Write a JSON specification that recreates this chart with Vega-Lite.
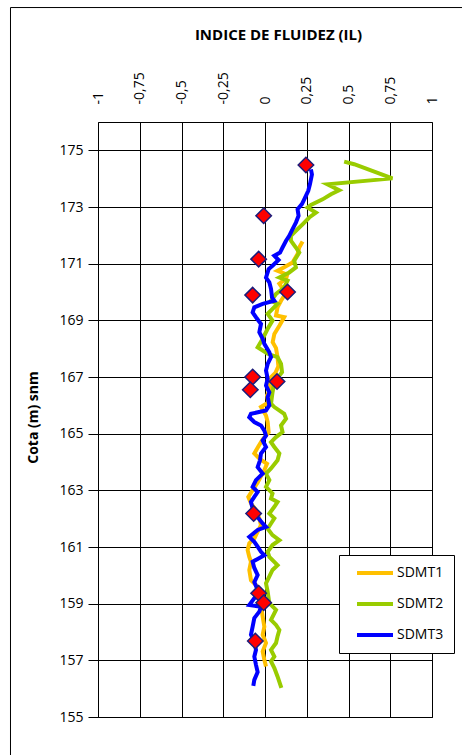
{
  "$schema": "https://vega.github.io/schema/vega-lite/v6.json",
  "width": 334,
  "height": 595,
  "autosize": {"type": "none"},
  "padding": {"left": 98, "top": 122, "right": 30, "bottom": 38},
  "background": "white",
  "config": {"view": {"stroke": "black", "strokeWidth": 1}, "font": "Open Sans"},
  "datasets": {
    "perfiles": [
      {"serie": "SDMT1", "cota": 171.78, "il": 0.225},
      {"serie": "SDMT1", "cota": 171.57, "il": 0.205},
      {"serie": "SDMT1", "cota": 171.34, "il": 0.195},
      {"serie": "SDMT1", "cota": 171.04, "il": 0.165},
      {"serie": "SDMT1", "cota": 170.87, "il": 0.115},
      {"serie": "SDMT1", "cota": 170.75, "il": 0.075},
      {"serie": "SDMT1", "cota": 170.61, "il": 0.133},
      {"serie": "SDMT1", "cota": 170.47, "il": 0.126},
      {"serie": "SDMT1", "cota": 170.29, "il": 0.086},
      {"serie": "SDMT1", "cota": 170.08, "il": 0.11},
      {"serie": "SDMT1", "cota": 169.87, "il": 0.115},
      {"serie": "SDMT1", "cota": 169.69, "il": 0.096},
      {"serie": "SDMT1", "cota": 169.46, "il": 0.075},
      {"serie": "SDMT1", "cota": 169.17, "il": 0.066},
      {"serie": "SDMT1", "cota": 169.11, "il": 0.115},
      {"serie": "SDMT1", "cota": 168.81, "il": 0.086},
      {"serie": "SDMT1", "cota": 168.52, "il": 0.056},
      {"serie": "SDMT1", "cota": 168.23, "il": 0.046},
      {"serie": "SDMT1", "cota": 168.02, "il": 0.066},
      {"serie": "SDMT1", "cota": 167.70, "il": 0.075},
      {"serie": "SDMT1", "cota": 167.38, "il": 0.08},
      {"serie": "SDMT1", "cota": 167.14, "il": 0.062},
      {"serie": "SDMT1", "cota": 166.88, "il": 0.016},
      {"serie": "SDMT1", "cota": 166.63, "il": 0.038},
      {"serie": "SDMT1", "cota": 166.35, "il": 0.012},
      {"serie": "SDMT1", "cota": 166.10, "il": 0.02},
      {"serie": "SDMT1", "cota": 165.94, "il": -0.024},
      {"serie": "SDMT1", "cota": 165.64, "il": 0.006},
      {"serie": "SDMT1", "cota": 165.41, "il": 0.016},
      {"serie": "SDMT1", "cota": 165.05, "il": 0.022},
      {"serie": "SDMT1", "cota": 164.80, "il": -0.014},
      {"serie": "SDMT1", "cota": 164.55, "il": -0.04},
      {"serie": "SDMT1", "cota": 164.30, "il": -0.064},
      {"serie": "SDMT1", "cota": 164.10, "il": -0.03},
      {"serie": "SDMT1", "cota": 163.94, "il": 0.012},
      {"serie": "SDMT1", "cota": 163.71, "il": -0.004},
      {"serie": "SDMT1", "cota": 163.50, "il": -0.024},
      {"serie": "SDMT1", "cota": 163.28, "il": -0.044},
      {"serie": "SDMT1", "cota": 163.04, "il": -0.07},
      {"serie": "SDMT1", "cota": 162.77, "il": -0.1},
      {"serie": "SDMT1", "cota": 162.54, "il": -0.084},
      {"serie": "SDMT1", "cota": 162.30, "il": -0.054},
      {"serie": "SDMT1", "cota": 162.01, "il": -0.034},
      {"serie": "SDMT1", "cota": 161.77, "il": -0.024},
      {"serie": "SDMT1", "cota": 161.54, "il": -0.044},
      {"serie": "SDMT1", "cota": 161.30, "il": -0.064},
      {"serie": "SDMT1", "cota": 161.13, "il": -0.094},
      {"serie": "SDMT1", "cota": 160.89, "il": -0.104},
      {"serie": "SDMT1", "cota": 160.65, "il": -0.094},
      {"serie": "SDMT1", "cota": 160.48, "il": -0.084},
      {"serie": "SDMT1", "cota": 160.19, "il": -0.094},
      {"serie": "SDMT1", "cota": 159.83, "il": -0.084},
      {"serie": "SDMT1", "cota": 159.66, "il": -0.054},
      {"serie": "SDMT1", "cota": 159.41, "il": -0.024},
      {"serie": "SDMT1", "cota": 159.13, "il": -0.016},
      {"serie": "SDMT1", "cota": 158.85, "il": -0.022},
      {"serie": "SDMT1", "cota": 158.54, "il": -0.014},
      {"serie": "SDMT1", "cota": 158.19, "il": -0.004},
      {"serie": "SDMT1", "cota": 157.90, "il": -0.014},
      {"serie": "SDMT1", "cota": 157.61, "il": 0.006},
      {"serie": "SDMT1", "cota": 157.31, "il": -0.014},
      {"serie": "SDMT1", "cota": 157.02, "il": -0.004},
      {"serie": "SDMT1", "cota": 156.78, "il": 0.006},

      {"serie": "SDMT2", "cota": 174.60, "il": 0.474},
      {"serie": "SDMT2", "cota": 174.51, "il": 0.534},
      {"serie": "SDMT2", "cota": 174.01, "il": 0.763},
      {"serie": "SDMT2", "cota": 173.80, "il": 0.374},
      {"serie": "SDMT2", "cota": 173.59, "il": 0.444},
      {"serie": "SDMT2", "cota": 173.45, "il": 0.395},
      {"serie": "SDMT2", "cota": 173.27, "il": 0.345},
      {"serie": "SDMT2", "cota": 173.07, "il": 0.275},
      {"serie": "SDMT2", "cota": 172.98, "il": 0.255},
      {"serie": "SDMT2", "cota": 172.80, "il": 0.305},
      {"serie": "SDMT2", "cota": 172.63, "il": 0.265},
      {"serie": "SDMT2", "cota": 172.39, "il": 0.225},
      {"serie": "SDMT2", "cota": 172.16, "il": 0.185},
      {"serie": "SDMT2", "cota": 171.98, "il": 0.155},
      {"serie": "SDMT2", "cota": 171.81, "il": 0.155},
      {"serie": "SDMT2", "cota": 171.57, "il": 0.185},
      {"serie": "SDMT2", "cota": 171.39, "il": 0.205},
      {"serie": "SDMT2", "cota": 171.10, "il": 0.175},
      {"serie": "SDMT2", "cota": 170.87, "il": 0.185},
      {"serie": "SDMT2", "cota": 170.69, "il": 0.145},
      {"serie": "SDMT2", "cota": 170.51, "il": 0.086},
      {"serie": "SDMT2", "cota": 170.40, "il": 0.135},
      {"serie": "SDMT2", "cota": 170.16, "il": 0.115},
      {"serie": "SDMT2", "cota": 169.93, "il": 0.066},
      {"serie": "SDMT2", "cota": 169.69, "il": 0.036},
      {"serie": "SDMT2", "cota": 169.58, "il": 0.075},
      {"serie": "SDMT2", "cota": 169.23, "il": 0.016},
      {"serie": "SDMT2", "cota": 168.99, "il": 0.045},
      {"serie": "SDMT2", "cota": 168.70, "il": 0.016},
      {"serie": "SDMT2", "cota": 168.35, "il": -0.014},
      {"serie": "SDMT2", "cota": 168.05, "il": -0.044},
      {"serie": "SDMT2", "cota": 167.82, "il": 0.016},
      {"serie": "SDMT2", "cota": 167.70, "il": 0.075},
      {"serie": "SDMT2", "cota": 167.46, "il": 0.096},
      {"serie": "SDMT2", "cota": 167.17, "il": 0.102},
      {"serie": "SDMT2", "cota": 166.82, "il": 0.056},
      {"serie": "SDMT2", "cota": 166.46, "il": 0.045},
      {"serie": "SDMT2", "cota": 166.06, "il": 0.036},
      {"serie": "SDMT2", "cota": 165.94, "il": 0.056},
      {"serie": "SDMT2", "cota": 165.70, "il": 0.115},
      {"serie": "SDMT2", "cota": 165.53, "il": 0.126},
      {"serie": "SDMT2", "cota": 165.29, "il": 0.096},
      {"serie": "SDMT2", "cota": 165.06, "il": 0.105},
      {"serie": "SDMT2", "cota": 164.88, "il": 0.066},
      {"serie": "SDMT2", "cota": 164.70, "il": 0.036},
      {"serie": "SDMT2", "cota": 164.53, "il": 0.056},
      {"serie": "SDMT2", "cota": 164.30, "il": 0.086},
      {"serie": "SDMT2", "cota": 164.06, "il": 0.075},
      {"serie": "SDMT2", "cota": 163.77, "il": 0.036},
      {"serie": "SDMT2", "cota": 163.59, "il": 0.006},
      {"serie": "SDMT2", "cota": 163.36, "il": 0.026},
      {"serie": "SDMT2", "cota": 163.12, "il": 0.006},
      {"serie": "SDMT2", "cota": 162.89, "il": 0.045},
      {"serie": "SDMT2", "cota": 162.71, "il": 0.036},
      {"serie": "SDMT2", "cota": 162.59, "il": 0.075},
      {"serie": "SDMT2", "cota": 162.42, "il": 0.056},
      {"serie": "SDMT2", "cota": 162.18, "il": 0.026},
      {"serie": "SDMT2", "cota": 162.01, "il": 0.056},
      {"serie": "SDMT2", "cota": 161.83, "il": 0.036},
      {"serie": "SDMT2", "cota": 161.65, "il": 0.016},
      {"serie": "SDMT2", "cota": 161.42, "il": 0.045},
      {"serie": "SDMT2", "cota": 161.24, "il": 0.086},
      {"serie": "SDMT2", "cota": 161.07, "il": 0.045},
      {"serie": "SDMT2", "cota": 160.83, "il": 0.016},
      {"serie": "SDMT2", "cota": 160.65, "il": 0.026},
      {"serie": "SDMT2", "cota": 160.36, "il": 0.075},
      {"serie": "SDMT2", "cota": 160.19, "il": 0.045},
      {"serie": "SDMT2", "cota": 159.72, "il": 0.006},
      {"serie": "SDMT2", "cota": 159.42, "il": 0.016},
      {"serie": "SDMT2", "cota": 159.01, "il": 0.026},
      {"serie": "SDMT2", "cota": 158.78, "il": 0.066},
      {"serie": "SDMT2", "cota": 158.43, "il": 0.036},
      {"serie": "SDMT2", "cota": 158.25, "il": 0.066},
      {"serie": "SDMT2", "cota": 158.07, "il": 0.086},
      {"serie": "SDMT2", "cota": 157.84, "il": 0.075},
      {"serie": "SDMT2", "cota": 157.61, "il": 0.066},
      {"serie": "SDMT2", "cota": 157.37, "il": 0.036},
      {"serie": "SDMT2", "cota": 157.13, "il": 0.056},
      {"serie": "SDMT2", "cota": 156.96, "il": 0.036},
      {"serie": "SDMT2", "cota": 156.73, "il": 0.056},
      {"serie": "SDMT2", "cota": 156.43, "il": 0.075},
      {"serie": "SDMT2", "cota": 156.03, "il": 0.098},

      {"serie": "SDMT3", "cota": 174.33, "il": 0.275},
      {"serie": "SDMT3", "cota": 174.15, "il": 0.281},
      {"serie": "SDMT3", "cota": 173.80, "il": 0.269},
      {"serie": "SDMT3", "cota": 173.57, "il": 0.259},
      {"serie": "SDMT3", "cota": 173.27, "il": 0.235},
      {"serie": "SDMT3", "cota": 173.10, "il": 0.221},
      {"serie": "SDMT3", "cota": 172.92, "il": 0.195},
      {"serie": "SDMT3", "cota": 172.69, "il": 0.201},
      {"serie": "SDMT3", "cota": 172.45, "il": 0.185},
      {"serie": "SDMT3", "cota": 172.22, "il": 0.165},
      {"serie": "SDMT3", "cota": 171.98, "il": 0.145},
      {"serie": "SDMT3", "cota": 171.81, "il": 0.126},
      {"serie": "SDMT3", "cota": 171.57, "il": 0.105},
      {"serie": "SDMT3", "cota": 171.39, "il": 0.090},
      {"serie": "SDMT3", "cota": 171.28, "il": 0.056},
      {"serie": "SDMT3", "cota": 171.13, "il": 0.081},
      {"serie": "SDMT3", "cota": 170.93, "il": 0.045},
      {"serie": "SDMT3", "cota": 170.81, "il": 0.022},
      {"serie": "SDMT3", "cota": 170.51, "il": 0.006},
      {"serie": "SDMT3", "cota": 170.34, "il": 0.026},
      {"serie": "SDMT3", "cota": 170.11, "il": 0.036},
      {"serie": "SDMT3", "cota": 169.81, "il": 0.042},
      {"serie": "SDMT3", "cota": 169.69, "il": 0.056},
      {"serie": "SDMT3", "cota": 169.58, "il": -0.014},
      {"serie": "SDMT3", "cota": 169.46, "il": -0.064},
      {"serie": "SDMT3", "cota": 169.28, "il": -0.074},
      {"serie": "SDMT3", "cota": 169.11, "il": -0.054},
      {"serie": "SDMT3", "cota": 168.87, "il": -0.024},
      {"serie": "SDMT3", "cota": 168.58, "il": -0.034},
      {"serie": "SDMT3", "cota": 168.35, "il": -0.014},
      {"serie": "SDMT3", "cota": 168.17, "il": -0.004},
      {"serie": "SDMT3", "cota": 167.87, "il": 0.026},
      {"serie": "SDMT3", "cota": 167.70, "il": 0.036},
      {"serie": "SDMT3", "cota": 167.46, "il": 0.016},
      {"serie": "SDMT3", "cota": 167.23, "il": 0.006},
      {"serie": "SDMT3", "cota": 166.94, "il": 0.016},
      {"serie": "SDMT3", "cota": 166.70, "il": 0.006},
      {"serie": "SDMT3", "cota": 166.46, "il": 0.026},
      {"serie": "SDMT3", "cota": 166.29, "il": 0.016},
      {"serie": "SDMT3", "cota": 166.00, "il": 0.026},
      {"serie": "SDMT3", "cota": 165.82, "il": 0.006},
      {"serie": "SDMT3", "cota": 165.70, "il": -0.084},
      {"serie": "SDMT3", "cota": 165.58, "il": -0.094},
      {"serie": "SDMT3", "cota": 165.41, "il": -0.064},
      {"serie": "SDMT3", "cota": 165.29, "il": -0.024},
      {"serie": "SDMT3", "cota": 165.11, "il": -0.004},
      {"serie": "SDMT3", "cota": 164.93, "il": 0.006},
      {"serie": "SDMT3", "cota": 164.76, "il": -0.014},
      {"serie": "SDMT3", "cota": 164.53, "il": 0.006},
      {"serie": "SDMT3", "cota": 164.30, "il": -0.024},
      {"serie": "SDMT3", "cota": 164.06, "il": -0.03},
      {"serie": "SDMT3", "cota": 163.82, "il": -0.044},
      {"serie": "SDMT3", "cota": 163.59, "il": -0.014},
      {"serie": "SDMT3", "cota": 163.36, "il": -0.054},
      {"serie": "SDMT3", "cota": 163.12, "il": -0.074},
      {"serie": "SDMT3", "cota": 162.94, "il": -0.044},
      {"serie": "SDMT3", "cota": 162.77, "il": -0.064},
      {"serie": "SDMT3", "cota": 162.59, "il": -0.084},
      {"serie": "SDMT3", "cota": 162.36, "il": -0.074},
      {"serie": "SDMT3", "cota": 162.12, "il": -0.054},
      {"serie": "SDMT3", "cota": 161.83, "il": -0.014},
      {"serie": "SDMT3", "cota": 161.71, "il": 0.006},
      {"serie": "SDMT3", "cota": 161.60, "il": -0.044},
      {"serie": "SDMT3", "cota": 161.36, "il": -0.094},
      {"serie": "SDMT3", "cota": 161.18, "il": -0.064},
      {"serie": "SDMT3", "cota": 161.01, "il": -0.044},
      {"serie": "SDMT3", "cota": 160.83, "il": -0.024},
      {"serie": "SDMT3", "cota": 160.71, "il": -0.004},
      {"serie": "SDMT3", "cota": 160.48, "il": -0.074},
      {"serie": "SDMT3", "cota": 160.26, "il": -0.064},
      {"serie": "SDMT3", "cota": 160.01, "il": -0.044},
      {"serie": "SDMT3", "cota": 159.76, "il": -0.064},
      {"serie": "SDMT3", "cota": 159.48, "il": -0.044},
      {"serie": "SDMT3", "cota": 159.27, "il": -0.054},
      {"serie": "SDMT3", "cota": 158.95, "il": -0.094},
      {"serie": "SDMT3", "cota": 158.89, "il": -0.024},
      {"serie": "SDMT3", "cota": 158.72, "il": -0.034},
      {"serie": "SDMT3", "cota": 158.49, "il": -0.064},
      {"serie": "SDMT3", "cota": 158.19, "il": -0.074},
      {"serie": "SDMT3", "cota": 157.90, "il": -0.084},
      {"serie": "SDMT3", "cota": 157.66, "il": -0.064},
      {"serie": "SDMT3", "cota": 157.37, "il": -0.054},
      {"serie": "SDMT3", "cota": 157.13, "il": -0.064},
      {"serie": "SDMT3", "cota": 156.84, "il": -0.054},
      {"serie": "SDMT3", "cota": 156.59, "il": -0.044},
      {"serie": "SDMT3", "cota": 156.31, "il": -0.064},
      {"serie": "SDMT3", "cota": 156.10, "il": -0.070}
    ],
    "ensayos": [
      {"cota": 174.48, "il": 0.245},
      {"cota": 172.69, "il": -0.008},
      {"cota": 171.16, "il": -0.038},
      {"cota": 170.00, "il": 0.135},
      {"cota": 169.89, "il": -0.074},
      {"cota": 167.00, "il": -0.074},
      {"cota": 166.84, "il": 0.072},
      {"cota": 166.55, "il": -0.088},
      {"cota": 162.18, "il": -0.068},
      {"cota": 159.37, "il": -0.038},
      {"cota": 159.03, "il": -0.008},
      {"cota": 157.68, "il": -0.058}
    ]
  },
  "layer": [
    {
      "data": {"name": "perfiles"},
      "mark": {"type": "line", "strokeWidth": 4, "strokeJoin": "miter", "clip": true},
      "encoding": {
        "x": {
          "field": "il", "type": "quantitative",
          "scale": {"domain": [-1, 1]},
          "axis": {
            "orient": "top",
            "title": "INDICE DE FLUIDEZ (IL)",
            "titleFont": "Open Sans", "titleFontSize": 15, "titleFontWeight": "bold", "titleColor": "black",
            "titleX": 180, "titleY": -88, "titleAlign": "center", "titleBaseline": "middle",
            "values": [-1, -0.75, -0.5, -0.25, 0, 0.25, 0.5, 0.75, 1],
            "labelExpr": "replace(replace(format(datum.value, '.2~f'), '.', ','), '\u2212', '-')",
            "labelAngle": 270, "labelAlign": "left", "labelBaseline": "middle",
            "labelPadding": 18, "labelFlush": false, "labelOverlap": false, "labelBound": false,
            "labelFont": "Open Sans", "labelFontSize": 14, "labelColor": "black",
            "ticks": false, "tickSize": 0, "domain": false,
            "grid": true, "gridColor": "black", "gridOpacity": 1, "gridWidth": 1
          }
        },
        "y": {
          "field": "cota", "type": "quantitative",
          "scale": {"domain": [155, 176]},
          "axis": {
            "title": "Cota (m) snm",
            "titleFont": "Open Sans", "titleFontSize": 14, "titleFontWeight": "bold", "titleColor": "black",
            "titleAngle": 270, "titleX": -65, "titleY": 295, "titleAlign": "center", "titleBaseline": "middle",
            "values": [155, 157, 159, 161, 163, 165, 167, 169, 171, 173, 175],
            "format": "d",
            "labelFont": "Open Sans", "labelFontSize": 14, "labelColor": "black", "labelPadding": 5,
            "labelFlush": false, "labelOverlap": false,
            "ticks": true, "tickSize": 10, "tickColor": "black", "tickWidth": 1,
            "domain": false,
            "grid": true, "gridColor": "black", "gridOpacity": 1, "gridWidth": 1
          }
        },
        "color": {
          "field": "serie", "type": "nominal",
          "scale": {"domain": ["SDMT1", "SDMT2", "SDMT3"], "range": ["#FFC000", "#99CC00", "#0000FF"]},
          "legend": {
            "orient": "none", "legendX": 241, "legendY": 433, "direction": "vertical",
            "title": null,
            "strokeColor": "black", "fillColor": "white", "padding": 10,
            "symbolType": "M0,0H6", "symbolSize": 144, "symbolStrokeWidth": 4,
            "labelOffset": 32, "labelFont": "Open Sans", "labelFontSize": 14, "labelColor": "black",
            "rowPadding": 15
          }
        },
        "order": {"field": "cota", "sort": "descending"}
      }
    },
    {
      "data": {"name": "ensayos"},
      "mark": {"type": "point", "shape": "diamond", "filled": true, "size": 240, "fill": "#FF0000", "stroke": "#1C1C7A", "strokeWidth": 1.5, "opacity": 1},
      "encoding": {
        "x": {"field": "il", "type": "quantitative", "scale": {"domain": [-1, 1]}},
        "y": {"field": "cota", "type": "quantitative", "scale": {"domain": [155, 176]}}
      }
    },
    {
      "data": {"values": [{}]},
      "mark": {"type": "rect", "filled": false, "stroke": "black", "strokeWidth": 1, "clip": false},
      "encoding": {
        "x": {"datum": -1.524, "type": "quantitative", "scale": {"domain": [-1, 1]}},
        "x2": {"datum": 1.25},
        "y": {"datum": 180.04, "type": "quantitative", "scale": {"domain": [155, 176]}},
        "y2": {"datum": 153.48}
      }
    }
  ]
}
